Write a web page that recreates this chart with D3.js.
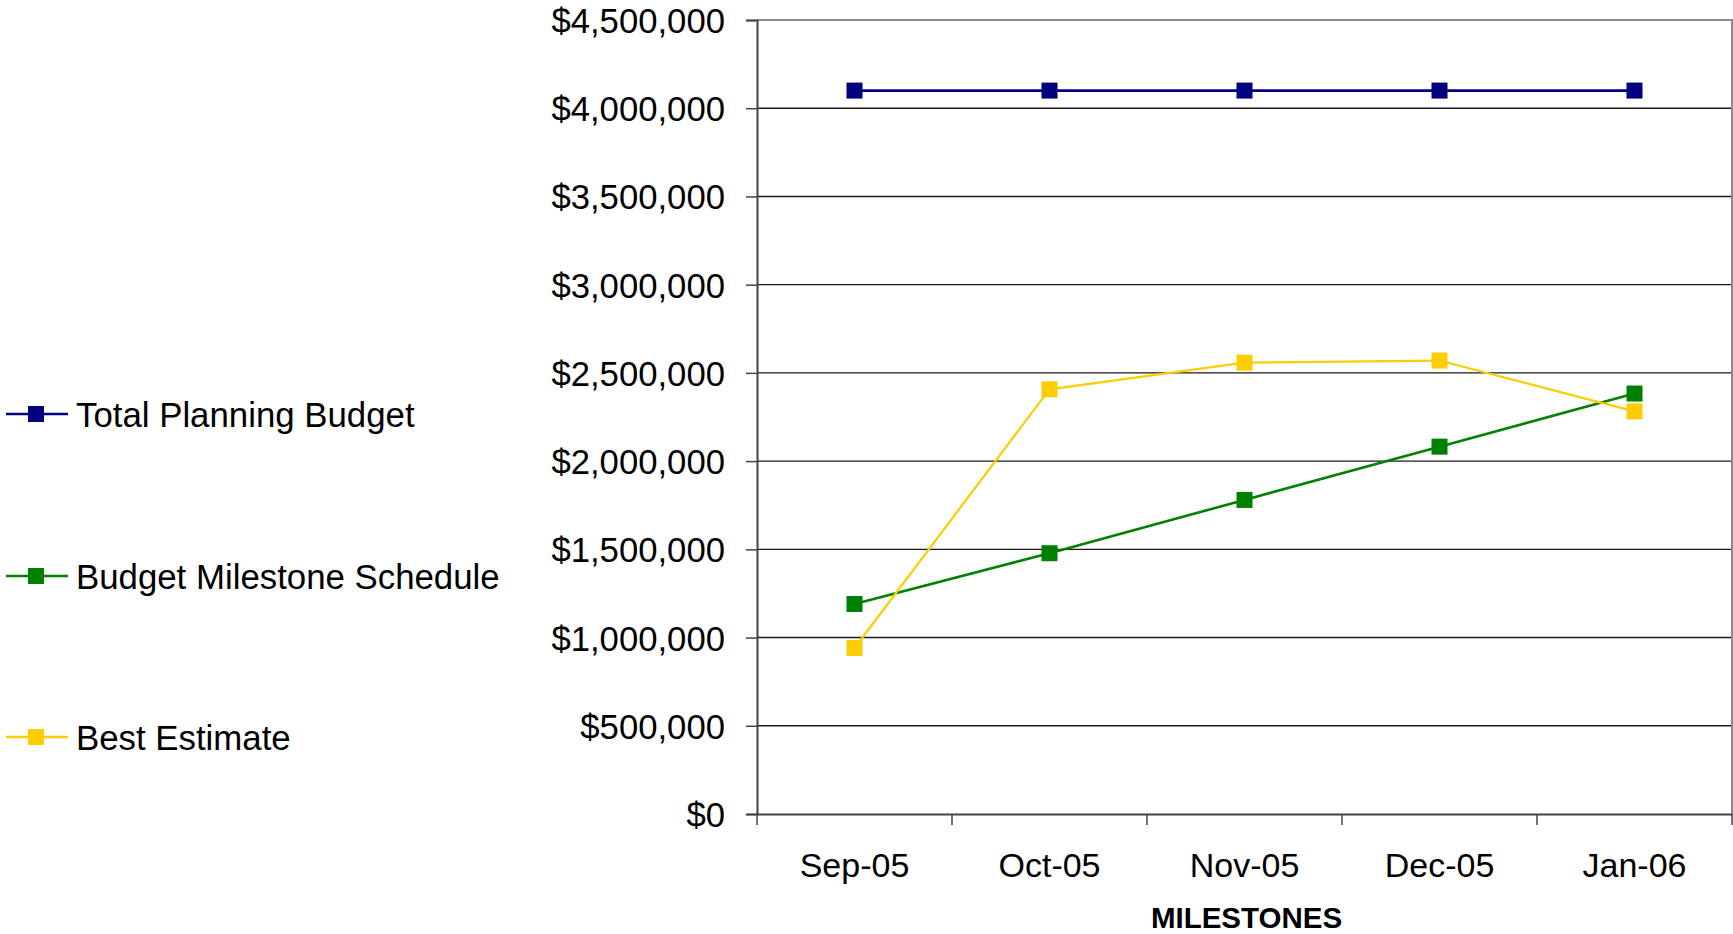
<!DOCTYPE html>
<html>
<head>
<meta charset="utf-8">
<script src="https://cdn.jsdelivr.net/npm/d3@7"></script>
<style>
  html, body { margin: 0; padding: 0; background: #fff; }
  svg { display: block; font-family: "Liberation Sans", Arial, sans-serif; }
</style>
</head>
<body>
<svg id="chart" width="1733" height="934"></svg>
<script>
// Milestone months along the x axis
const months = ["Sep-05", "Oct-05", "Nov-05", "Dec-05", "Jan-06"];

// Series values (dollars)
const totalPlanningBudget = [4100000, 4100000, 4100000, 4100000, 4100000];
const budgetMilestoneSchedule = [1190000, 1478000, 1780000, 2082000, 2383000];
const bestEstimate = [941000, 2407000, 2558000, 2570000, 2282000];

const seriesNames = ["Total Planning Budget", "Budget Milestone Schedule", "Best Estimate"];
const seriesColors = ["#000080", "#008000", "#FFCC00"];

// Y axis ticks
const yTicks = [0, 500000, 1000000, 1500000, 2000000, 2500000, 3000000, 3500000, 4000000, 4500000];

const series = [
  { name: seriesNames[0], color: seriesColors[0], values: totalPlanningBudget, width: 2.8 },
  { name: seriesNames[1], color: seriesColors[1], values: budgetMilestoneSchedule, width: 2.6 },
  { name: seriesNames[2], color: seriesColors[2], values: bestEstimate, width: 2.2 }
];

const svg = d3.select("#chart");
const plot = { left: 757, right: 1732, top: 20, bottom: 814 };

const x = d3.scaleBand().domain(months).range([plot.left, plot.right]).padding(0);
const y = d3.scaleLinear().domain([0, 4500000]).range([plot.bottom, plot.top]);

const fmt = v => "$" + d3.format(",")(v);

// Horizontal gridlines
svg.append("g")
  .selectAll("line")
  .data(yTicks.filter(t => t > 0 && t < 4500000))
  .join("line")
  .attr("x1", plot.left).attr("x2", plot.right)
  .attr("y1", d => y(d)).attr("y2", d => y(d))
  .attr("stroke", "#1a1a1a").attr("stroke-width", 1.4);

// Plot area border (top and right)
svg.append("path")
  .attr("d", `M${plot.left},${plot.top}H${plot.right}V${plot.bottom}`)
  .attr("fill", "none").attr("stroke", "#8a8a8a").attr("stroke-width", 2);

// Y axis
const yAxis = d3.axisLeft(y).tickValues(yTicks).tickFormat(fmt).tickSize(11).tickPadding(21);
const gy = svg.append("g").attr("transform", `translate(${plot.left},0)`).call(yAxis);
gy.select(".domain").attr("stroke", "#444").attr("stroke-width", 2);
gy.selectAll(".tick line").attr("stroke", "#444").attr("stroke-width", 1.5);
gy.selectAll(".tick text")
  .attr("font-size", 34.7).attr("fill", "#000")
  .attr("font-family", "'Liberation Sans', Arial, sans-serif")
  .attr("dy", "0.36em");

// X axis: ticks on band boundaries, labels at band centres
const xAxis = d3.axisBottom(x).tickSize(0).tickPadding(0);
const gx = svg.append("g").attr("transform", `translate(0,${plot.bottom})`).call(xAxis);
gx.select(".domain").attr("stroke", "#444").attr("stroke-width", 2);
gx.selectAll(".tick text")
  .attr("font-size", 34).attr("fill", "#000")
  .attr("font-family", "'Liberation Sans', Arial, sans-serif")
  .attr("y", 63).attr("dy", 0);

const boundaries = months.map(m => x(m)).concat([x(months[months.length - 1]) + x.bandwidth()]);
svg.append("g").selectAll("line")
  .data(boundaries)
  .join("line")
  .attr("x1", d => d).attr("x2", d => d)
  .attr("y1", plot.bottom).attr("y2", plot.bottom + 11)
  .attr("stroke", "#444").attr("stroke-width", 1.5);

// Axis title
svg.append("text")
  .attr("x", (plot.left + plot.right) / 2 + 2).attr("y", 928)
  .attr("text-anchor", "middle")
  .attr("font-size", 29.5).attr("font-weight", "bold")
  .text("MILESTONES");

// Lines and square markers
const cx = m => x(m) + x.bandwidth() / 2;
const line = d3.line().x((d, i) => cx(months[i])).y(d => y(d));
const mk = 16;

series.forEach(s => {
  const g = svg.append("g");
  g.append("path")
    .datum(s.values)
    .attr("d", line)
    .attr("fill", "none")
    .attr("stroke", s.color)
    .attr("stroke-width", s.width);
  g.selectAll("rect")
    .data(s.values)
    .join("rect")
    .attr("x", (d, i) => cx(months[i]) - mk / 2)
    .attr("y", d => y(d) - mk / 2)
    .attr("width", mk).attr("height", mk)
    .attr("fill", s.color);
});

// Legend
const legendRows = [414, 576, 737];
const legend = svg.append("g");
series.forEach((s, i) => {
  const ly = legendRows[i];
  legend.append("line")
    .attr("x1", 6).attr("x2", 68).attr("y1", ly).attr("y2", ly)
    .attr("stroke", s.color).attr("stroke-width", 2.4);
  legend.append("rect")
    .attr("x", 36 - mk / 2).attr("y", ly - mk / 2)
    .attr("width", mk).attr("height", mk)
    .attr("fill", s.color);
  legend.append("text")
    .attr("x", 76).attr("y", ly + 12.5)
    .attr("font-size", 34.8).attr("fill", "#000")
    .text(s.name);
});
</script>
</body>
</html>
